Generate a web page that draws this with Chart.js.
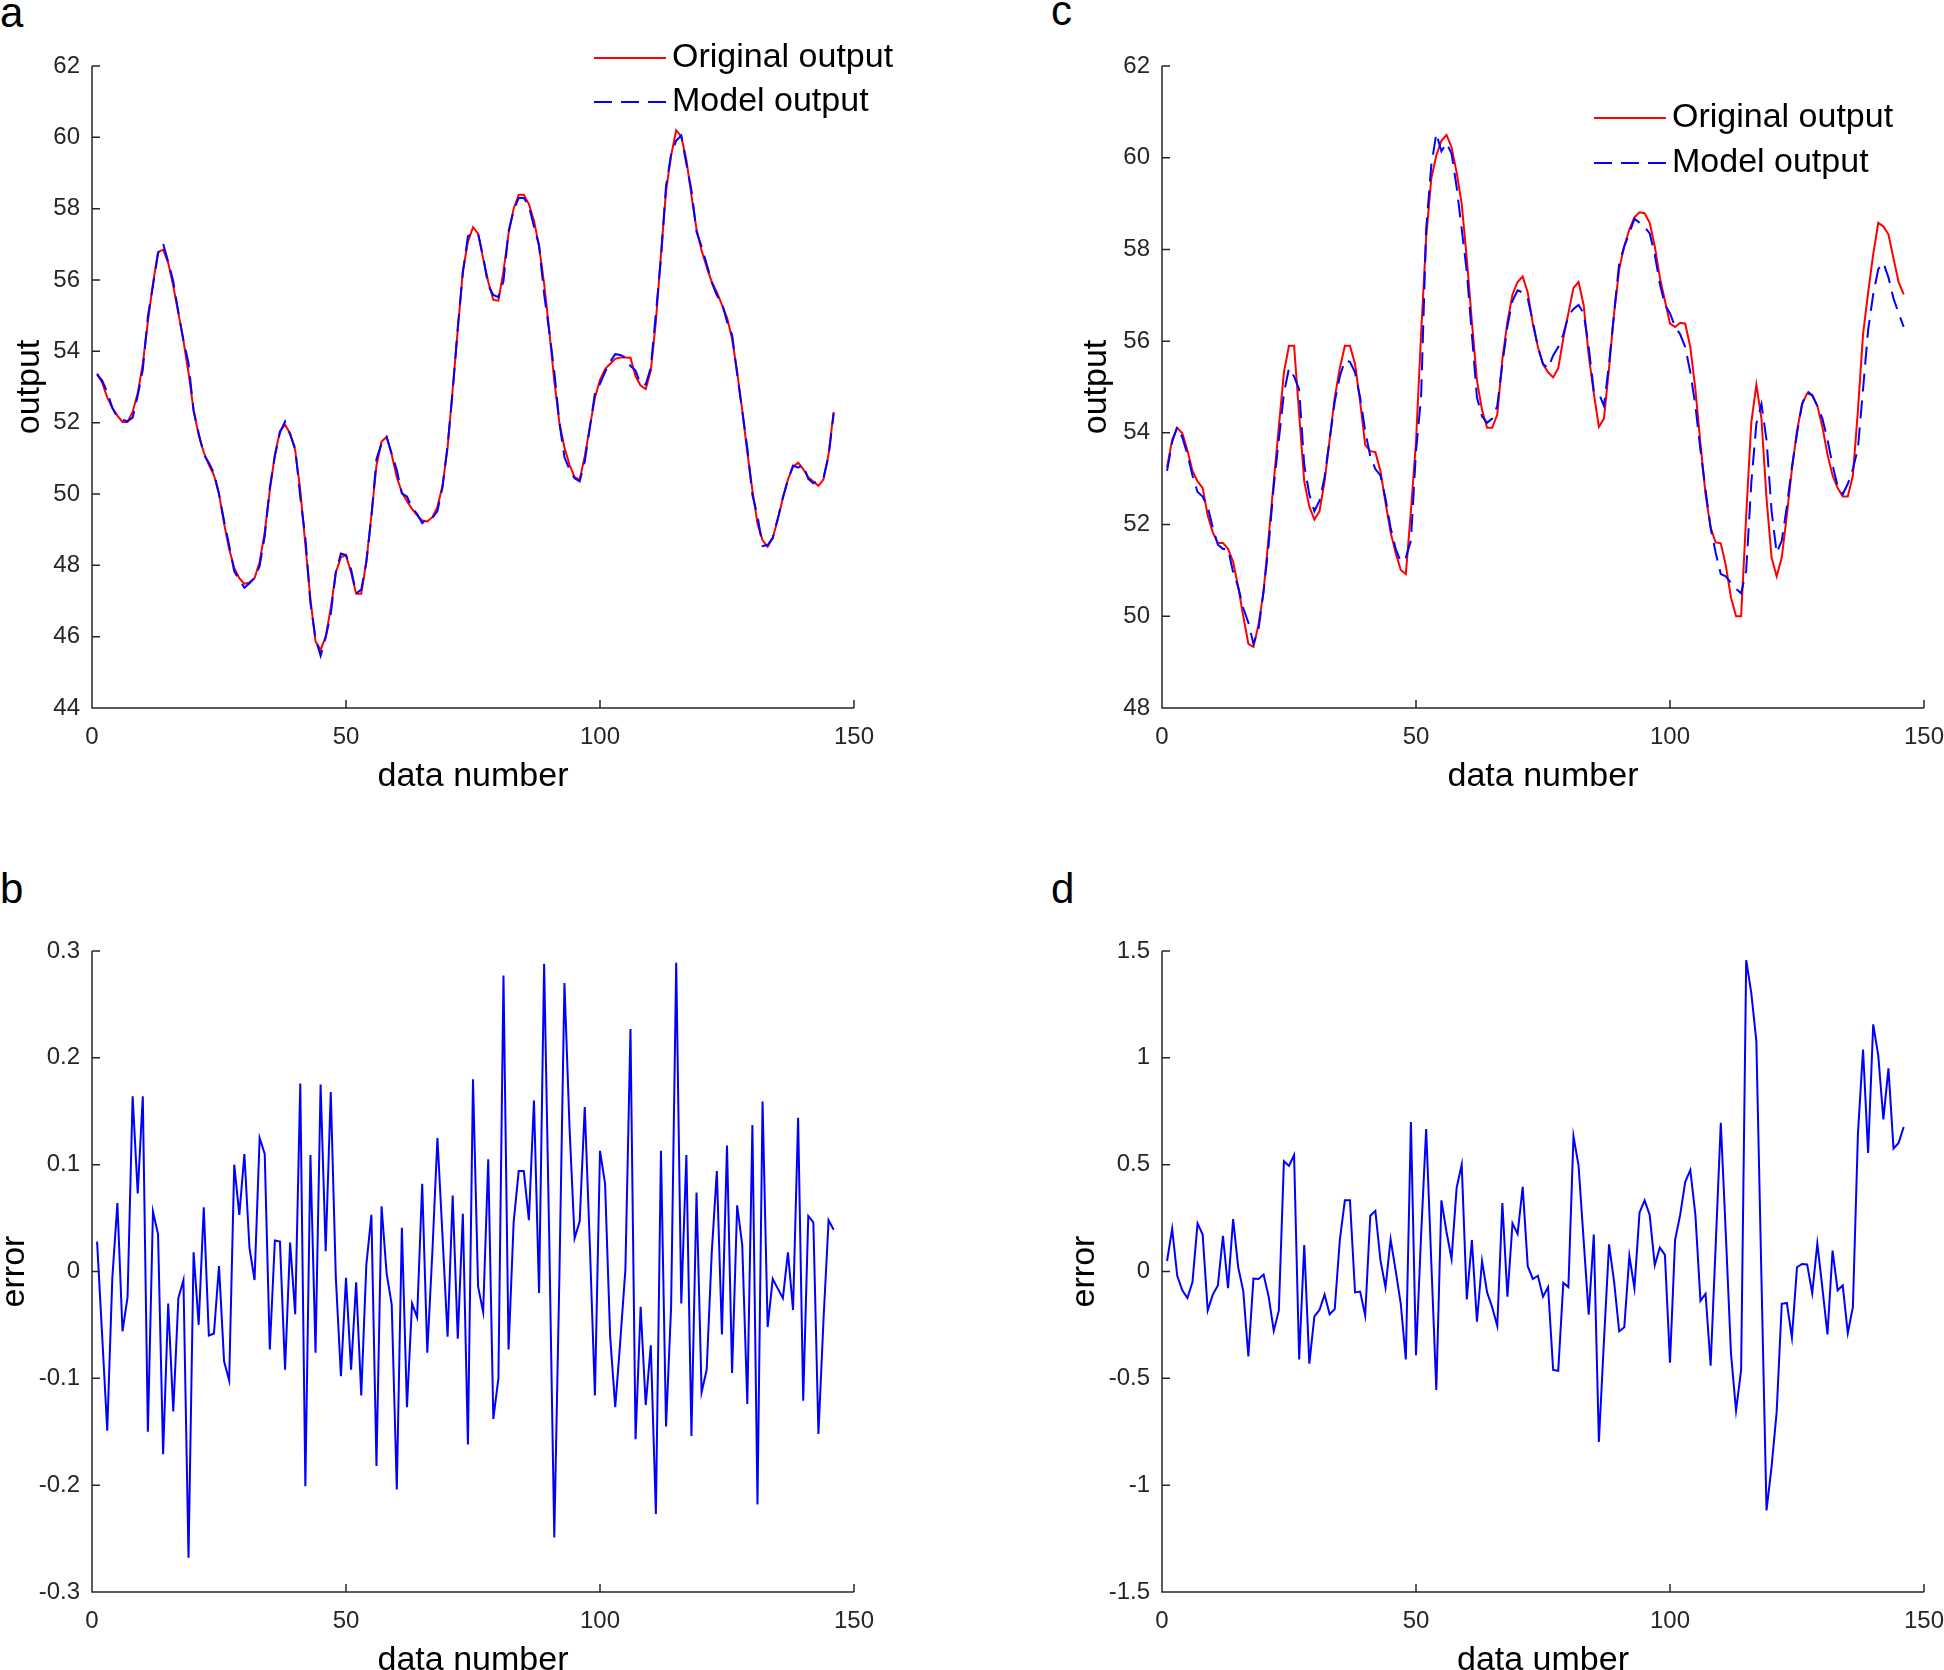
<!DOCTYPE html>
<html><head><meta charset="utf-8">
<script src="https://cdn.jsdelivr.net/npm/chart.js@4.4.0/dist/chart.umd.min.js"></script>
<style>
html,body{margin:0;padding:0;width:1944px;height:1670px;overflow:hidden;background:#fff;}
canvas{position:absolute;}
.lbl{position:absolute;font-family:"Liberation Sans",Arial,Helvetica,sans-serif;font-size:42px;line-height:42px;color:#000;}
</style></head><body>
<div class="lbl" style="left:0px;top:-8px">a</div>
<div class="lbl" style="left:1051px;top:-10px">c</div>
<div class="lbl" style="left:0px;top:868px">b</div>
<div class="lbl" style="left:1051px;top:868px">d</div>
<canvas id="ca"></canvas>
<canvas id="cb"></canvas>
<canvas id="cc"></canvas>
<canvas id="cd"></canvas>
<script>
const FONT = '"Liberation Sans", Arial, Helvetica, sans-serif';
const seriesNames = ['Original output', 'Model output'];
const xTicks = [0, 50, 100, 150];

// panel a
const origA = [53.38,53.12,52.71,52.41,52.20,52.02,52.02,52.30,52.83,53.65,
54.83,55.90,56.78,56.85,56.48,55.83,55.07,54.30,53.40,52.35,
51.65,51.17,50.82,50.53,50.00,49.17,48.46,47.93,47.64,47.48,
47.52,47.64,48.10,48.93,50.10,51.10,51.76,51.94,51.70,51.23,
50.10,48.58,47.05,45.87,45.63,46.00,46.80,47.80,48.23,48.28,
47.80,47.20,47.20,48.10,49.40,50.80,51.47,51.60,51.10,50.47,
50.05,49.80,49.58,49.40,49.26,49.23,49.35,49.64,50.23,51.30,
52.94,54.60,56.25,57.07,57.48,57.30,56.60,55.95,55.44,55.42,
56.25,57.30,58.00,58.39,58.39,58.13,57.66,56.95,55.90,54.60,
53.18,52.00,51.30,50.82,50.47,50.40,51.06,51.88,52.70,53.20,
53.50,53.65,53.79,53.83,53.83,53.82,53.30,53.04,52.94,53.47,
54.83,56.72,58.49,59.49,60.20,60.02,59.37,58.37,57.42,56.83,
56.36,55.95,55.66,55.30,54.95,54.36,53.42,52.35,51.17,50.11,
49.17,48.70,48.52,48.76,49.29,49.88,50.41,50.76,50.88,50.70,
50.47,50.35,50.23,50.41,51.12,52.30];
const modelA = [53.35,53.18,52.86,52.42,52.14,52.08,52.04,52.14,52.76,53.49,
54.98,55.84,56.75,57.02,56.51,55.96,55.10,54.31,53.67,52.33,
51.70,51.11,50.88,50.59,50.00,49.25,48.56,47.83,47.59,47.37,
47.50,47.65,47.98,48.82,50.17,51.07,51.73,52.03,51.67,51.27,
49.92,48.78,46.94,45.95,45.46,45.98,46.63,47.81,48.33,48.29,
47.89,47.21,47.32,48.09,49.35,50.98,51.41,51.60,51.13,50.67,
50.01,49.93,49.61,49.44,49.18,49.31,49.33,49.52,50.20,51.36,
52.87,54.66,56.20,57.23,57.30,57.31,56.64,55.85,55.58,55.52,
55.97,57.37,57.95,58.30,58.30,58.08,57.50,56.97,55.61,54.57,
53.43,52.01,51.03,50.69,50.44,50.35,50.91,51.86,52.82,53.09,
53.42,53.71,53.92,53.90,53.83,53.59,53.46,53.07,53.07,53.54,
55.06,56.61,58.64,59.52,59.91,60.05,59.26,58.52,57.35,56.94,
56.45,55.93,55.57,55.36,54.83,54.46,53.36,52.33,51.29,49.97,
49.39,48.54,48.57,48.77,49.31,49.91,50.39,50.80,50.74,50.82,
50.42,50.30,50.38,50.46,51.07,52.26];

// panel b
const errB = [0.028,-0.060,-0.149,-0.006,0.064,-0.056,-0.024,0.164,0.073,0.164,
-0.150,0.056,0.035,-0.171,-0.030,-0.131,-0.025,-0.008,-0.268,0.018,
-0.050,0.060,-0.060,-0.058,0.005,-0.084,-0.102,0.100,0.053,0.110,
0.022,-0.008,0.125,0.110,-0.073,0.029,0.028,-0.092,0.027,-0.040,
0.176,-0.201,0.109,-0.076,0.175,0.019,0.168,-0.006,-0.098,-0.006,
-0.092,-0.010,-0.116,0.006,0.053,-0.182,0.061,-0.002,-0.031,-0.204,
0.041,-0.127,-0.030,-0.043,0.082,-0.076,0.018,0.125,0.033,-0.061,
0.071,-0.063,0.054,-0.162,0.180,-0.014,-0.038,0.105,-0.138,-0.100,
0.277,-0.073,0.046,0.094,0.094,0.048,0.160,-0.020,0.288,0.033,
-0.249,-0.006,0.270,0.135,0.031,0.047,0.154,0.025,-0.116,0.113,
0.082,-0.061,-0.127,-0.065,0.002,0.227,-0.157,-0.033,-0.125,-0.069,
-0.227,0.113,-0.145,-0.033,0.289,-0.030,0.109,-0.154,0.074,-0.113,
-0.092,0.018,0.094,-0.059,0.118,-0.095,0.062,0.025,-0.124,0.137,
-0.218,0.159,-0.052,-0.007,-0.016,-0.025,0.018,-0.036,0.144,-0.121,
0.052,0.046,-0.152,-0.045,0.048,0.039];

// panel c
const origC = [53.25,53.85,54.11,53.99,53.62,53.17,52.94,52.80,52.20,51.83,
51.60,51.60,51.47,51.19,50.64,50.00,49.40,49.33,49.82,50.55,
51.74,52.94,54.13,55.32,55.90,55.90,54.40,52.94,52.39,52.11,
52.29,52.94,53.85,54.77,55.41,55.90,55.90,55.50,54.68,53.74,
53.60,53.58,53.17,52.48,51.83,51.38,51.01,50.92,52.30,53.80,
56.15,58.26,59.54,60.05,60.37,60.50,60.23,59.68,58.99,57.80,
56.42,55.14,54.50,54.11,54.11,54.40,55.60,56.42,57.02,57.29,
57.41,57.06,56.38,55.87,55.50,55.32,55.21,55.41,56.06,56.61,
57.16,57.29,56.79,55.69,54.86,54.13,54.31,55.41,56.61,57.57,
58.07,58.44,58.70,58.81,58.79,58.58,58.07,57.39,56.88,56.38,
56.31,56.40,56.38,55.87,54.95,53.76,52.66,51.93,51.61,51.59,
51.10,50.41,50.00,50.00,52.20,54.22,55.05,54.31,52.57,51.28,
50.87,51.28,52.20,53.21,54.04,54.63,54.86,54.82,54.59,54.13,
53.53,53.07,52.80,52.61,52.61,53.07,54.50,56.15,57.06,57.89,
58.58,58.50,58.33,57.80,57.29,57.02];
const modelC = [53.17,53.80,54.13,53.90,53.53,53.07,52.71,52.61,52.39,51.93,
51.56,51.47,51.47,50.96,50.64,50.18,49.86,49.40,49.72,50.55,
51.56,52.84,53.85,54.86,55.41,55.23,54.95,53.30,52.66,52.29,
52.52,53.03,53.85,54.68,55.23,55.58,55.55,55.32,54.77,54.04,
53.49,53.21,53.07,52.57,51.93,51.47,51.19,51.28,51.65,53.60,
54.77,58.44,59.82,60.53,60.14,60.32,60.09,59.36,58.44,57.52,
56.15,54.77,54.36,54.22,54.31,54.59,55.50,56.33,56.88,57.11,
57.06,56.93,56.42,55.87,55.50,55.41,55.69,55.87,56.15,56.56,
56.70,56.79,56.61,55.87,54.91,54.86,54.59,55.50,56.61,57.70,
58.07,58.35,58.67,58.58,58.49,58.35,57.89,57.25,56.79,56.61,
56.31,56.15,55.87,55.32,54.59,53.62,52.75,51.93,51.38,50.92,
50.87,50.73,50.60,50.50,51.00,52.90,54.20,54.63,53.85,52.29,
51.38,51.65,52.39,53.26,53.99,54.63,54.91,54.82,54.59,54.31,
53.85,53.30,52.84,52.66,52.89,53.21,53.67,54.95,56.24,57.02,
57.57,57.71,57.39,56.93,56.61,56.31];

// panel d
const errD = [0.049,0.200,-0.020,-0.088,-0.124,-0.049,0.225,0.173,-0.182,-0.108,
-0.065,0.167,-0.078,0.245,0.020,-0.092,-0.398,-0.033,-0.035,-0.014,
-0.118,-0.278,-0.182,0.516,0.494,0.545,-0.412,0.124,-0.431,-0.210,
-0.180,-0.108,-0.200,-0.176,0.147,0.333,0.333,-0.098,-0.094,-0.206,
0.261,0.284,0.053,-0.075,0.151,0.004,-0.151,-0.412,0.700,-0.392,
0.167,0.667,0.050,-0.555,0.333,0.186,0.059,0.392,0.500,-0.131,
0.147,-0.235,0.049,-0.098,-0.167,-0.255,0.320,-0.118,0.225,0.176,
0.396,0.025,-0.035,-0.020,-0.118,-0.073,-0.461,-0.465,-0.053,-0.073,
0.633,0.496,0.147,-0.202,0.173,-0.798,-0.324,0.127,-0.049,-0.280,
-0.261,0.073,-0.078,0.275,0.333,0.265,0.029,0.112,0.078,-0.427,
0.147,0.265,0.420,0.475,0.265,-0.137,-0.104,-0.441,0.127,0.696,
0.167,-0.382,-0.651,-0.461,1.457,1.304,1.078,-0.029,-1.118,-0.912,
-0.657,-0.151,-0.147,-0.310,0.020,0.035,0.033,-0.102,0.131,-0.078,
-0.294,0.098,-0.088,-0.065,-0.288,-0.167,0.647,1.039,0.555,1.157,
1.010,0.712,0.951,0.575,0.602,0.676];

const dataNumber = origA.map((_, i) => i + 1);
const pts = arr => arr.map((v, i) => ({x: dataNumber[i], y: v}));

const DASH = [18, 9];
const axesPlugin = {
  id: 'matlabAxes',
  afterDraw(chart) {
    const {ctx, chartArea: a, scales: {x, y}} = chart;
    ctx.save();
    ctx.strokeStyle = '#262626';
    ctx.lineWidth = 1.5;
    ctx.setLineDash([]);
    ctx.beginPath();
    ctx.moveTo(a.left, a.top); ctx.lineTo(a.left, a.bottom); ctx.lineTo(a.right, a.bottom);
    x.ticks.forEach(t => { const p = x.getPixelForValue(t.value); ctx.moveTo(p, a.bottom); ctx.lineTo(p, a.bottom - 8); });
    y.ticks.forEach(t => { const p = y.getPixelForValue(t.value); ctx.moveTo(a.left, p); ctx.lineTo(a.left + 8, p); });
    ctx.stroke();
    ctx.restore();
  }
};

function makeLegend(cfg, L, T) {
  return {
    id: 'customLegend',
    afterDraw(chart) {
      const ctx = chart.ctx;
      ctx.save();
      ctx.font = '34px ' + FONT;
      ctx.textBaseline = 'middle';
      ctx.fillStyle = '#000';
      cfg.items.forEach(it => {
        ctx.beginPath();
        ctx.strokeStyle = it.color;
        ctx.lineWidth = 2;
        ctx.setLineDash(it.dash || []);
        ctx.moveTo(cfg.x0 - L, it.y - T); ctx.lineTo(cfg.x1 - L, it.y - T);
        ctx.stroke();
        ctx.setLineDash([]);
        ctx.fillText(it.text, cfg.tx - L, it.y - T);
      });
      ctx.restore();
    }
  };
}

const fmt = v => String(Number(Number(v).toFixed(4)));

function makePanel(id, area, yTitle, yTitleX, xTitle, xTitleY, yMin, yMax, yStep, datasets, legend) {
  const L = area.l - 140, T = area.t - 90;
  const W = area.r + 40 - L, H = area.b + 110 - T;
  const cv = document.getElementById(id);
  cv.width = W; cv.height = H;
  cv.style.left = L + 'px'; cv.style.top = T + 'px';
  cv.style.width = W + 'px'; cv.style.height = H + 'px';
  const titleFont = {family: FONT, size: 34, lineHeight: 1.2};
  const tickFont = {family: FONT, size: 24};
  const plugins = [axesPlugin];
  if (legend) plugins.push(makeLegend(legend, L, T));
  new Chart(cv, {
    type: 'line',
    data: {datasets},
    options: {
      responsive: false, animation: false, devicePixelRatio: 1,
      layout: {padding: {left: 0, top: 90, right: 40, bottom: 0}},
      plugins: {legend: {display: false}, tooltip: {enabled: false}},
      elements: {point: {radius: 0}, line: {tension: 0}},
      scales: {
        x: {
          type: 'linear', min: 0, max: 150,
          afterBuildTicks: s => { s.ticks = xTicks.map(v => ({value: v})); },
          ticks: {font: tickFont, color: '#262626', padding: 7, maxRotation: 0, autoSkip: false, callback: fmt},
          grid: {display: false}, border: {display: false},
          title: {display: true, text: xTitle, font: titleFont, color: '#000',
                  padding: {top: 0, bottom: (T + H - xTitleY) - 20.4}},
          afterFit: s => { s.height = 110; }
        },
        y: {
          type: 'linear', min: yMin, max: yMax,
          ticks: {stepSize: yStep, font: tickFont, color: '#262626', padding: 4, callback: fmt},
          grid: {display: false}, border: {display: false},
          title: {display: true, text: yTitle, font: titleFont, color: '#000',
                  padding: {top: (yTitleX - L) - 20.4, bottom: 0}},
          afterFit: s => { s.width = 140; }
        }
      }
    },
    plugins
  });
}

const lineDs = (label, arr, color, dash, order) => ({
  label, data: pts(arr), borderColor: color, backgroundColor: color,
  borderWidth: 2, borderDash: dash, pointRadius: 0, fill: false, order
});

makePanel('ca', {l: 92, r: 854, t: 66, b: 708}, 'output', 30, 'data number', 777, 44, 62, 2,
  [lineDs(seriesNames[1], modelA, '#0000ff', DASH, 0), lineDs(seriesNames[0], origA, '#ff0000', [], 1)],
  {x0: 594, x1: 666, tx: 672, items: [
    {text: seriesNames[0], color: '#ff0000', y: 58},
    {text: seriesNames[1], color: '#0000ff', dash: DASH, y: 102}]});

makePanel('cc', {l: 1162, r: 1924, t: 66, b: 708}, 'output', 1097, 'data number', 777, 48, 62, 2,
  [lineDs(seriesNames[1], modelC, '#0000ff', DASH, 0), lineDs(seriesNames[0], origC, '#ff0000', [], 1)],
  {x0: 1594, x1: 1666, tx: 1672, items: [
    {text: seriesNames[0], color: '#ff0000', y: 118},
    {text: seriesNames[1], color: '#0000ff', dash: DASH, y: 163}]});

makePanel('cb', {l: 92, r: 854, t: 951, b: 1592}, 'error', 15, 'data number', 1661, -0.3, 0.3, 0.1,
  [lineDs('error', errB, '#0000ff', [], 0)], null);

makePanel('cd', {l: 1162, r: 1924, t: 951, b: 1592}, 'error', 1085, 'data umber', 1661, -1.5, 1.5, 0.5,
  [lineDs('error', errD, '#0000ff', [], 0)], null);
</script>
</body></html>
